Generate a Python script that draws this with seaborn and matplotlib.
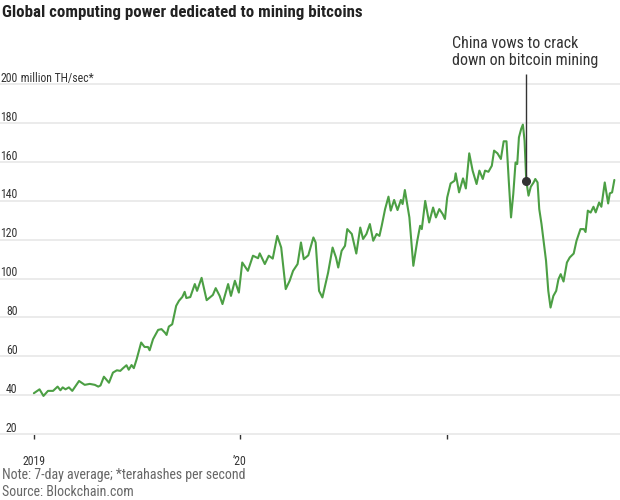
import matplotlib
matplotlib.use("Agg")
import matplotlib.pyplot as plt
import matplotlib.dates as mdates
import matplotlib.transforms as mtransforms
from matplotlib import font_manager as fm
import numpy as np
import pandas as pd
import seaborn as sns

# ---------------- data ----------------
dates_2019 = ["2019-01-01", "2019-01-11", "2019-01-18", "2019-01-26", "2019-02-04", "2019-02-12",
              "2019-02-17", "2019-02-21", "2019-02-26", "2019-03-04", "2019-03-10", "2019-03-22",
              "2019-04-01", "2019-04-10", "2019-04-19", "2019-04-25", "2019-04-29", "2019-05-05",
              "2019-05-14", "2019-05-21", "2019-05-28", "2019-06-03", "2019-06-08", "2019-06-14",
              "2019-06-18", "2019-06-23", "2019-06-27", "2019-07-02", "2019-07-10", "2019-07-16",
              "2019-07-22", "2019-07-25", "2019-07-31", "2019-08-09", "2019-08-15", "2019-08-21",
              "2019-08-24", "2019-08-28", "2019-09-03", "2019-09-10", "2019-09-15", "2019-09-21",
              "2019-09-25", "2019-09-28", "2019-10-05", "2019-10-13", "2019-10-17", "2019-10-25",
              "2019-11-03", "2019-11-14", "2019-11-19", "2019-11-26", "2019-12-01", "2019-12-11",
              "2019-12-16", "2019-12-23", "2019-12-30"]
hash_2019 = [41.0, 43.0, 39.6, 42.2, 42.2, 44.4,
             42.5, 44.0, 43.0, 44.0, 42.2, 47.3,
             45.3, 45.8, 45.3, 44.4, 45.0, 49.5,
             46.4, 51.6, 52.8, 52.5, 53.9, 55.4,
             53.1, 55.5, 53.9, 58.5, 67.1, 64.8,
             64.8, 63.1, 68.8, 73.6, 74.0, 72.2,
             71.0, 75.3, 76.5, 86.0, 88.6, 90.6,
             93.2, 90.0, 90.5, 97.2, 93.7, 100.4,
             88.9, 91.6, 95.1, 91.1, 86.9, 97.2,
             91.1, 98.9, 92.8]

dates_2020 = ["2020-01-05", "2020-01-15", "2020-01-24", "2020-02-02", "2020-02-05", "2020-02-14",
              "2020-02-21", "2020-02-28", "2020-03-07", "2020-03-14", "2020-03-22", "2020-03-29",
              "2020-04-04", "2020-04-12", "2020-04-18", "2020-04-23", "2020-05-01", "2020-05-10",
              "2020-05-14", "2020-05-20", "2020-05-26", "2020-06-05", "2020-06-13", "2020-06-19",
              "2020-06-23", "2020-06-29", "2020-07-05", "2020-07-09", "2020-07-17", "2020-07-25",
              "2020-08-01", "2020-08-06", "2020-08-12", "2020-08-18", "2020-08-24", "2020-08-30",
              "2020-09-04", "2020-09-08", "2020-09-14", "2020-09-20", "2020-09-24", "2020-09-30",
              "2020-10-06", "2020-10-12", "2020-10-15", "2020-10-19", "2020-10-27", "2020-11-03",
              "2020-11-10", "2020-11-15", "2020-11-18", "2020-11-24", "2020-12-01", "2020-12-08",
              "2020-12-13", "2020-12-19", "2020-12-25", "2020-12-29"]
hash_2020 = [108.3, 104.0, 111.8, 110.5, 113.0, 107.5,
             111.8, 110.3, 122.0, 116.0, 94.6, 98.9,
             104.0, 107.5, 118.6, 110.0, 112.0, 121.2,
             118.6, 93.7, 90.3, 103.0, 116.0, 110.9,
             105.7, 114.3, 116.9, 125.5, 123.0, 112.9,
             126.3, 120.4, 123.0, 128.1, 119.5, 123.0,
             122.0, 127.2, 135.8, 142.2, 135.0, 140.5,
             135.3, 140.5, 138.4, 145.6, 131.5, 106.6,
             119.5, 127.2, 125.5, 140.0, 128.9, 136.6,
             131.5, 135.8, 133.2, 130.7]

dates_2021 = ["2021-01-02", "2021-01-08", "2021-01-15", "2021-01-17", "2021-01-23", "2021-01-30",
              "2021-02-04", "2021-02-10", "2021-02-16", "2021-02-23", "2021-02-28", "2021-03-06",
              "2021-03-10", "2021-03-16", "2021-03-22", "2021-03-26", "2021-04-01", "2021-04-07",
              "2021-04-12", "2021-04-17", "2021-04-21", "2021-04-25", "2021-04-29", "2021-05-03",
              "2021-05-06", "2021-05-09", "2021-05-13", "2021-05-16", "2021-05-19", "2021-05-22",
              "2021-05-26", "2021-05-30", "2021-06-04", "2021-06-07", "2021-06-11", "2021-06-14",
              "2021-06-18", "2021-06-26", "2021-06-30", "2021-07-04", "2021-07-09", "2021-07-14",
              "2021-07-18", "2021-07-22", "2021-07-27", "2021-08-02", "2021-08-07", "2021-08-14",
              "2021-08-19", "2021-08-26", "2021-09-01", "2021-09-04", "2021-09-08", "2021-09-13",
              "2021-09-18", "2021-09-22", "2021-09-28", "2021-10-02", "2021-10-08", "2021-10-14",
              "2021-10-17", "2021-10-21", "2021-10-25"]
hash_2021 = [141.8, 149.0, 150.4, 154.2, 144.4, 151.6,
             146.4, 164.5, 155.6, 148.7, 155.6, 151.3,
             155.6, 155.0, 158.1, 165.9, 164.5, 161.6,
             170.7, 170.7, 150.4, 131.5, 143.6, 159.8,
             159.0, 172.7, 177.1, 179.3, 171.0, 150.4,
             142.7, 147.3, 149.5, 151.3, 149.5, 135.8,
             128.1, 109.2, 93.7, 85.1, 91.1, 93.7,
             99.7, 102.3, 98.5, 108.3, 110.9, 112.9,
             119.5, 125.5, 125.5, 124.0, 135.0, 134.0,
             137.0, 134.1, 139.2, 137.0, 149.5, 138.7,
             143.9, 144.4, 150.8]

y_ticks = [20, 40, 60, 80, 100, 120, 140, 160, 180, 200]
x_tick_dates = ["2019-01-01", "2020-01-01", "2021-01-01"]
x_tick_labels = ["2019", "\u201920", ""]

event_date = "2021-05-22"
event_value = 150.4
event_text = "China vows to crack\ndown on bitcoin mining"

title = "Global computing power dedicated to mining bitcoins"
unit_text = " million TH/sec*"
note_text = "Note: 7-day average; *terahashes per second"
source_text = "Source: Blockchain.com"

# ---------------- styling ----------------
def pick_font(names):
    for n in names:
        try:
            fm.findfont(fm.FontProperties(family=n), fallback_to_default=False)
            return n
        except Exception:
            continue
    return "DejaVu Sans"

sns.set_theme(style="white")
FONT = pick_font(["Liberation Sans Narrow", "Roboto Condensed", "Open Sans Condensed", "Liberation Sans"])
plt.rcParams["font.family"] = [FONT, "DejaVu Sans"]

LINE_C = "#4c9f44"
TEXT_C = "#333333"
GRID_C = "#ebebeb"
NOTE_C = "#666666"

df = pd.DataFrame({
    "date": pd.to_datetime(dates_2019 + dates_2020 + dates_2021),
    "hashrate": hash_2019 + hash_2020 + hash_2021,
})

W, H = 620, 500
fig = plt.figure(figsize=(W / 100, H / 100), dpi=100)
ax_bottom_px, ax_top_px = 434, 30
ax = fig.add_axes([0, (H - ax_bottom_px) / H, 1.0, (ax_bottom_px - ax_top_px) / H])

sns.lineplot(data=df, x="date", y="hashrate", ax=ax, color=LINE_C, linewidth=1.5, zorder=3)

ax.set_xlim(pd.Timestamp("2018-11-02"), pd.Timestamp("2021-11-04"))
ax.set_ylim(20, 228)

for s in ax.spines.values():
    s.set_visible(False)

ax.set_yticks(y_ticks)
ax.set_yticklabels([])
ax.tick_params(axis="y", length=0)
ax.yaxis.grid(True, color=GRID_C, linewidth=1.4, zorder=0)
ax.xaxis.grid(False)
for gl in ax.get_ygridlines():
    gl.set_clip_on(False)

ax.set_xticks(pd.to_datetime(x_tick_dates))
ax.set_xticklabels(x_tick_labels, fontsize=8.5, color=TEXT_C)
ax.tick_params(axis="x", length=3.6, width=1, color=TEXT_C, direction="out", pad=11.3, bottom=True)
ax.set_xlabel("")
ax.set_ylabel("")

# y labels above gridlines
blend = mtransforms.blended_transform_factory(ax.transAxes, ax.transData)
for v in y_ticks:
    ax.annotate(str(v), xy=(17.5 / W, v), xycoords=blend, xytext=(0, 2.5),
                textcoords="offset pixels", ha="right", va="baseline",
                fontsize=8.5, color=TEXT_C)
ax.annotate(unit_text, xy=(17.5 / W, y_ticks[-1]), xycoords=blend, xytext=(0, 2.5),
            textcoords="offset pixels", ha="left", va="baseline",
            fontsize=8.5, color=TEXT_C)

# event annotation
ed = pd.Timestamp(event_date)
ax.vlines(ed, event_value, 205.5, color=TEXT_C, linewidth=1, zorder=4)
ax.plot([ed], [event_value], marker="o", ms=5.5, color=TEXT_C, zorder=5)
ax.text(452 / W, (ax_bottom_px - 36) / (ax_bottom_px - ax_top_px), event_text,
        transform=ax.transAxes, ha="left", va="top", fontsize=11.5,
        color=TEXT_C, linespacing=1.15)

# title and notes
fig.text(2 / W, 1 - 12 / H, title, ha="left", va="center", fontsize=12.2,
         fontweight="bold", color="#222222")
fig.text(2 / W, 1 - 478.5 / H, note_text, ha="left", va="baseline", fontsize=10, color=NOTE_C)
fig.text(2 / W, 1 - 496 / H, source_text, ha="left", va="baseline", fontsize=10, color=NOTE_C)

fig.savefig("out.png", dpi=100)
